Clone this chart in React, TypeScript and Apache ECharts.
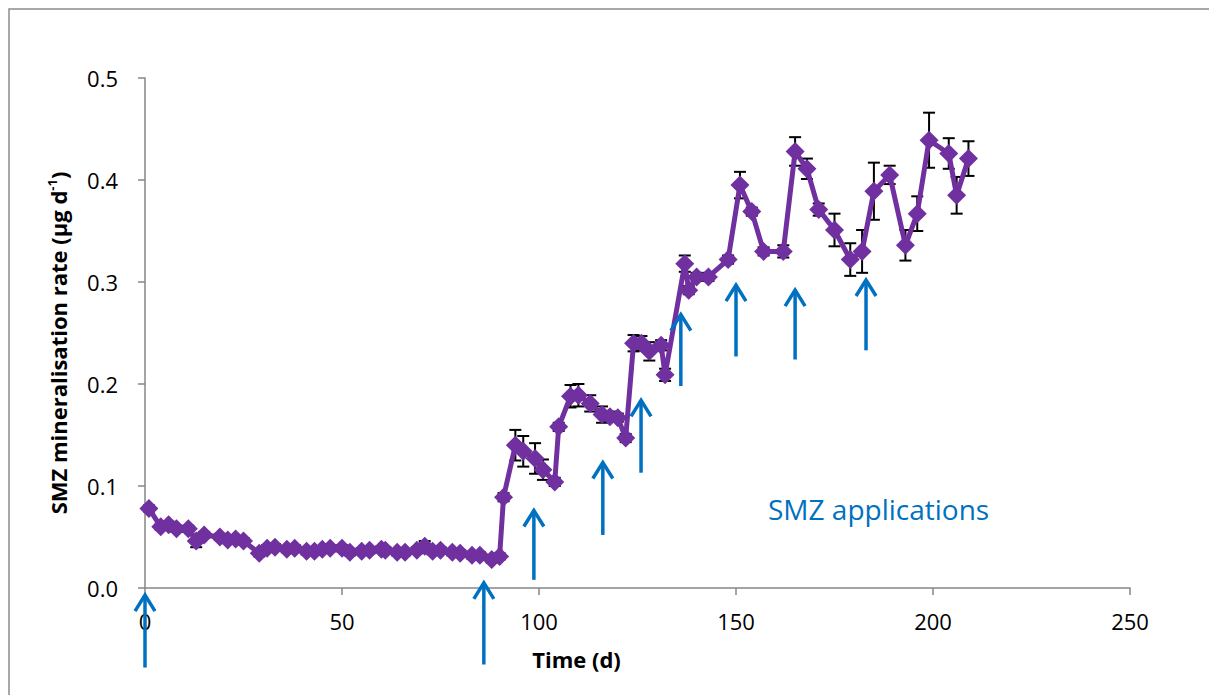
import React, { useEffect, useRef } from "react";
import * as echarts from "echarts";

const days = [1, 4, 6, 8, 11, 13, 15, 19, 21, 23, 25, 29, 31, 33, 36, 38, 41, 43, 45, 47, 50, 52, 55, 57, 60, 61, 64, 66, 69, 71, 73, 75, 78, 80, 83, 85, 88, 90, 91, 94, 96, 99, 101, 104, 105, 108, 110, 113, 116, 118, 120, 122, 124, 126, 128, 131, 132, 137, 138, 140, 143, 148, 151, 154, 157, 162, 165, 168, 171, 175, 179, 182, 185, 189, 193, 196, 199, 204, 206, 209];
const rates = [0.078, 0.060, 0.062, 0.058, 0.058, 0.046, 0.052, 0.050, 0.047, 0.048, 0.046, 0.034, 0.039, 0.040, 0.038, 0.039, 0.036, 0.036, 0.038, 0.039, 0.039, 0.035, 0.036, 0.037, 0.038, 0.037, 0.035, 0.035, 0.037, 0.041, 0.036, 0.037, 0.035, 0.034, 0.032, 0.032, 0.028, 0.031, 0.089, 0.140, 0.134, 0.127, 0.116, 0.104, 0.158, 0.188, 0.189, 0.181, 0.170, 0.168, 0.167, 0.147, 0.240, 0.240, 0.232, 0.238, 0.209, 0.318, 0.292, 0.305, 0.305, 0.322, 0.395, 0.369, 0.330, 0.330, 0.428, 0.411, 0.371, 0.351, 0.322, 0.330, 0.389, 0.405, 0.336, 0.367, 0.439, 0.426, 0.385, 0.421];
const errors = [0.003, 0.003, 0.003, 0.003, 0.003, 0.006, 0.003, 0.003, 0.003, 0.003, 0.003, 0.003, 0.003, 0.003, 0.003, 0.003, 0.003, 0.003, 0.003, 0.003, 0.003, 0.003, 0.003, 0.003, 0.003, 0.003, 0.003, 0.003, 0.003, 0.005, 0.003, 0.003, 0.003, 0.003, 0.003, 0.003, 0.003, 0.003, 0.004, 0.015, 0.015, 0.015, 0.010, 0.004, 0.004, 0.011, 0.011, 0.008, 0.008, 0.005, 0.004, 0.004, 0.008, 0.007, 0.009, 0.005, 0.006, 0.008, 0.004, 0.004, 0.004, 0.004, 0.013, 0.004, 0.004, 0.006, 0.014, 0.010, 0.006, 0.016, 0.016, 0.021, 0.028, 0.009, 0.015, 0.017, 0.027, 0.015, 0.018, 0.017];

// SMZ application arrows: day, tip value, tail value
const arrowDays = [0, 86, 98.7, 116.2, 125.9, 136, 150, 165, 183];
const arrowTips = [-0.007, 0.005, 0.076, 0.123, 0.184, 0.268, 0.297, 0.292, 0.302];
const arrowTails = [-0.078, -0.075, 0.008, 0.052, 0.113, 0.198, 0.227, 0.224, 0.233];

const xTicks = [0, 250, 50];
const yTicks = [0, 0.5, 0.1];

const FONT = "'Open Sans', 'Noto Sans', sans-serif";
const PURPLE = "#7030A0";
const BLUE = "#0070C0";
const AXIS = "#868686";

export default function App() {
  const ref = useRef<HTMLDivElement>(null);
  useEffect(() => {
    if (!ref.current) return;
    const chart = echarts.init(ref.current, undefined, { renderer: "svg" });
    const lineData = days.map((d, i) => [d, rates[i]]);
    const errData = days.map((d, i) => [d, rates[i] - errors[i], rates[i] + errors[i]]);
    const arrowData = arrowDays.map((d, i) => [d, arrowTips[i], arrowTails[i]]);
    chart.setOption({
      animation: false,
      backgroundColor: "#ffffff",
      grid: { left: 145, right: 79, top: 78, bottom: 107, containLabel: false },
      graphic: [
        {
          type: "rect",
          shape: { x: 9, y: 9, width: 1230, height: 720 },
          style: { fill: "none", stroke: "#8c8c8c", lineWidth: 1.5 },
          z: 0,
        },
        {
          type: "text",
          x: 768,
          y: 509,
          style: { text: "SMZ applications", fill: BLUE, font: `28px ${FONT}`, verticalAlign: "middle" },
          z: 10,
        },
      ],
      xAxis: {
        type: "value",
        min: xTicks[0],
        max: xTicks[1],
        interval: xTicks[2],
        name: "Time (d)",
        nameLocation: "middle",
        nameGap: 60,
        nameTextStyle: { fontFamily: FONT, fontWeight: "bold", fontSize: 22, color: "#000", padding: [0, 122, 0, 0] },
        axisLine: { onZero: false, lineStyle: { color: AXIS, width: 1.5 } },
        axisTick: { show: true, inside: false, length: 7, lineStyle: { color: AXIS, width: 1.5 } },
        axisLabel: { margin: 22, fontFamily: FONT, fontSize: 22, color: "#000" },
        splitLine: { show: false },
      },
      yAxis: {
        type: "value",
        min: yTicks[0],
        max: yTicks[1],
        interval: yTicks[2],
        name: "{b|SMZ mineralisation rate (µg d}{sup|-1}{b|)}",
        nameLocation: "middle",
        nameGap: 74,
        nameRotate: 90,
        nameTextStyle: {
          padding: [0, 20, 0, 0],
          rich: {
            b: { fontFamily: FONT, fontWeight: "bold", fontSize: 22, color: "#000", lineHeight: 26 },
            sup: { fontFamily: FONT, fontWeight: "bold", fontSize: 13, color: "#000", lineHeight: 14, verticalAlign: "top" },
          },
        },
        axisLine: { show: true, lineStyle: { color: AXIS, width: 1.5 } },
        axisTick: { show: true, inside: false, length: 7, lineStyle: { color: AXIS, width: 1.5 } },
        axisLabel: { margin: 27, fontFamily: FONT, fontSize: 22, color: "#000", formatter: (v: number) => v.toFixed(1) },
        splitLine: { show: false },
      },
      series: [
        {
          type: "custom",
          name: "errors",
          z: 2,
          data: errData,
          encode: { x: 0, y: [1, 2] },
          renderItem: (params: any, api: any) => {
            const x = api.value(0);
            const lo = api.coord([x, api.value(1)]);
            const hi = api.coord([x, api.value(2)]);
            const cap = 6;
            const style = { stroke: "#000", lineWidth: 2 };
            return {
              type: "group",
              children: [
                { type: "line", shape: { x1: lo[0], y1: lo[1], x2: hi[0], y2: hi[1] }, style },
                { type: "line", shape: { x1: lo[0] - cap, y1: lo[1], x2: lo[0] + cap, y2: lo[1] }, style },
                { type: "line", shape: { x1: hi[0] - cap, y1: hi[1], x2: hi[0] + cap, y2: hi[1] }, style },
              ],
            };
          },
        },
        {
          type: "line",
          name: "SMZ",
          z: 3,
          data: lineData,
          symbol: "diamond",
          symbolSize: 19,
          lineStyle: { color: PURPLE, width: 5 },
          itemStyle: { color: PURPLE },
        },
        {
          type: "custom",
          name: "arrows",
          z: 5,
          clip: false,
          data: arrowData,
          renderItem: (params: any, api: any) => {
            const x = api.value(0);
            const tip = api.coord([x, api.value(1)]);
            const tail = api.coord([x, api.value(2)]);
            const style = { stroke: BLUE, lineWidth: 3.5, fill: "none" };
            return {
              type: "group",
              children: [
                { type: "line", shape: { x1: tail[0], y1: tail[1], x2: tip[0], y2: tip[1] + 1 }, style },
                {
                  type: "polyline",
                  shape: { points: [[tip[0] - 10, tip[1] + 16], [tip[0], tip[1]], [tip[0] + 10, tip[1] + 16]] },
                  style,
                },
              ],
            };
          },
        },
      ],
    });
    return () => chart.dispose();
  }, []);
  return <div ref={ref} style={{ position: "absolute", left: 0, top: 0, width: 1209, height: 695 }} />;
}
